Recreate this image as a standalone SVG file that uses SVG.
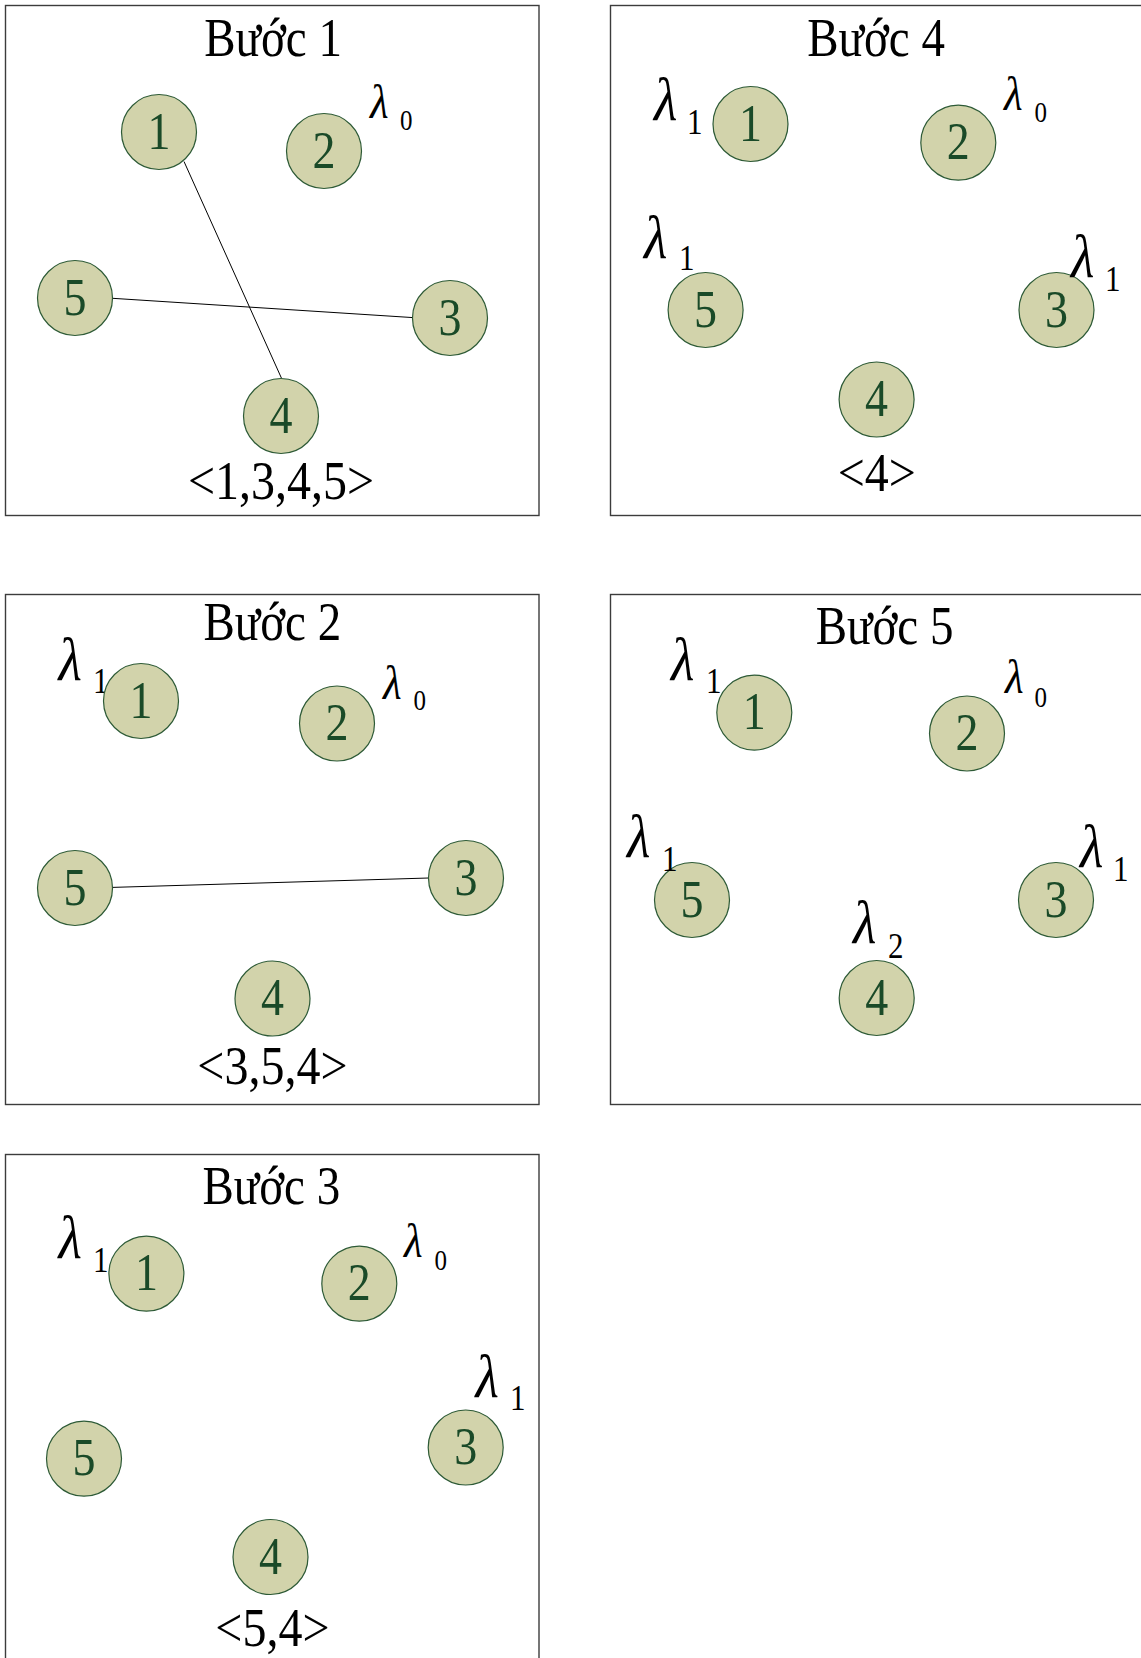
<svg xmlns="http://www.w3.org/2000/svg" width="1141" height="1658" viewBox="0 0 1141 1658">
<style>
.frame{fill:none;stroke:#3c3c3c;stroke-width:1.4}
.node circle{fill:#d2d3ab;stroke:#2d5a36;stroke-width:1.2}
.d{font-family:"Liberation Serif","Times New Roman",serif;font-size:46px;fill:#1a4a28;text-anchor:middle}
.title{font-family:"Liberation Serif","Times New Roman",serif;font-size:47px;fill:#000;text-anchor:middle}
.seq{font-family:"Liberation Serif","Times New Roman",serif;font-size:48px;fill:#000;text-anchor:middle}
.lam{font-family:"Liberation Serif","Times New Roman",serif;font-style:italic;fill:#000}
.lb{font-size:54px}
.ls{font-size:43px}
.sub{font-family:"Liberation Serif","Times New Roman",serif;fill:#000}
.sb{font-size:31px}
.ss{font-size:25px}
.edge{stroke:#000;stroke-width:1;fill:none}
</style>
<rect width="1141" height="1658" fill="#fff"/>
<g id="frames">
<rect class="frame" x="5.5" y="5.5" width="533.5" height="510"/>
<rect class="frame" x="610.5" y="5.5" width="560" height="510"/>
<rect class="frame" x="5.5" y="594.5" width="533.5" height="510"/>
<rect class="frame" x="610.5" y="594.5" width="560" height="510"/>
<rect class="frame" x="5.5" y="1154.5" width="533.5" height="530"/>
</g>
<g id="titles">
<text class="title" transform="translate(273,55.7) scale(1,1.15)">Bước 1</text>
<text class="title" transform="translate(876,55.7) scale(1,1.15)">Bước 4</text>
<text class="title" transform="translate(272.3,640) scale(1,1.15)">Bước 2</text>
<text class="title" transform="translate(884.5,644.2) scale(1,1.15)">Bước 5</text>
<text class="title" transform="translate(271.3,1204.3) scale(1,1.15)">Bước 3</text>
<text class="seq" transform="translate(281,499) scale(1,1.15)">&lt;1,3,4,5&gt;</text>
<text class="seq" transform="translate(876.7,491) scale(1,1.15)">&lt;4&gt;</text>
<text class="seq" transform="translate(272.4,1084) scale(1,1.15)">&lt;3,5,4&gt;</text>
<text class="seq" transform="translate(272.4,1646) scale(1,1.15)">&lt;5,4&gt;</text>
</g>
<g id="connectors">
<line class="edge" x1="184" y1="161.5" x2="281.4" y2="378"/>
<line class="edge" x1="112.5" y1="298.3" x2="413" y2="317.6"/>
<line class="edge" x1="112.5" y1="887.4" x2="428.6" y2="878"/>
</g>
<!-- Panel 1 -->
<g id="p1-n1" class="node"><circle cx="159" cy="132" r="37.5"/><text class="d" transform="translate(159,148.5) scale(1,1.15)">1</text></g>
<g id="p1-n2" class="node"><circle cx="324" cy="151" r="37.5"/><text class="d" transform="translate(324,167.5) scale(1,1.15)">2</text>
<text class="lam ls" transform="translate(370,118) scale(1,1.15)">λ</text><text class="sub ss" transform="translate(400,130) scale(1,1.15)">0</text></g>
<g id="p1-n5" class="node"><circle cx="75" cy="298" r="37.5"/><text class="d" transform="translate(75,314.5) scale(1,1.15)">5</text></g>
<g id="p1-n3" class="node"><circle cx="450" cy="318" r="37.5"/><text class="d" transform="translate(450,334.5) scale(1,1.15)">3</text></g>
<g id="p1-n4" class="node"><circle cx="281" cy="416" r="37.5"/><text class="d" transform="translate(281,432.5) scale(1,1.15)">4</text></g>
<!-- Panel 4 -->
<g id="p4-n1" class="node"><circle cx="750.5" cy="124" r="37.5"/><text class="d" transform="translate(750.5,140.5) scale(1,1.15)">1</text>
<text class="lam lb" transform="translate(654,120) scale(1,1.15)">λ</text><text class="sub sb" transform="translate(687,133.5) scale(1,1.15)">1</text></g>
<g id="p4-n2" class="node"><circle cx="958.3" cy="142.7" r="37.5"/><text class="d" transform="translate(958.3,159.2) scale(1,1.15)">2</text>
<text class="lam ls" transform="translate(1004,110) scale(1,1.15)">λ</text><text class="sub ss" transform="translate(1034.5,122.3) scale(1,1.15)">0</text></g>
<g id="p4-n5" class="node"><circle cx="705.6" cy="310" r="37.5"/><text class="d" transform="translate(705.6,326.5) scale(1,1.15)">5</text>
<text class="lam lb" transform="translate(644,258.4) scale(1,1.15)">λ</text><text class="sub sb" transform="translate(679,270) scale(1,1.15)">1</text></g>
<g id="p4-n3" class="node"><circle cx="1056.5" cy="310" r="37.5"/><text class="d" transform="translate(1056.5,326.5) scale(1,1.15)">3</text>
<text class="lam lb" transform="translate(1071,277) scale(1,1.15)">λ</text><text class="sub sb" transform="translate(1105,290.5) scale(1,1.15)">1</text></g>
<g id="p4-n4" class="node"><circle cx="876.6" cy="399.5" r="37.5"/><text class="d" transform="translate(876.6,416) scale(1,1.15)">4</text></g>
<!-- Panel 2 -->
<g id="p2-n1" class="node"><text class="lam lb" transform="translate(58.5,679.7) scale(1,1.15)">λ</text><text class="sub sb" transform="translate(93,693) scale(1,1.15)">1</text>
<circle cx="141" cy="701" r="37.5"/><text class="d" transform="translate(141,717.5) scale(1,1.15)">1</text></g>
<g id="p2-n2" class="node"><circle cx="337" cy="723.5" r="37.5"/><text class="d" transform="translate(337,740) scale(1,1.15)">2</text>
<text class="lam ls" transform="translate(383,699) scale(1,1.15)">λ</text><text class="sub ss" transform="translate(413.5,710) scale(1,1.15)">0</text></g>
<g id="p2-n5" class="node"><circle cx="75" cy="888" r="37.5"/><text class="d" transform="translate(75,904.5) scale(1,1.15)">5</text></g>
<g id="p2-n3" class="node"><circle cx="466" cy="878" r="37.5"/><text class="d" transform="translate(466,894.5) scale(1,1.15)">3</text></g>
<g id="p2-n4" class="node"><circle cx="272.5" cy="998.5" r="37.5"/><text class="d" transform="translate(272.5,1015) scale(1,1.15)">4</text></g>
<!-- Panel 5 -->
<g id="p5-n1" class="node"><circle cx="754.3" cy="712.6" r="37.5"/><text class="d" transform="translate(754.3,729.1) scale(1,1.15)">1</text>
<text class="lam lb" transform="translate(671,679.7) scale(1,1.15)">λ</text><text class="sub sb" transform="translate(706,693) scale(1,1.15)">1</text></g>
<g id="p5-n2" class="node"><circle cx="967" cy="733.5" r="37.5"/><text class="d" transform="translate(967,750) scale(1,1.15)">2</text>
<text class="lam ls" transform="translate(1005,693) scale(1,1.15)">λ</text><text class="sub ss" transform="translate(1034.5,706.7) scale(1,1.15)">0</text></g>
<g id="p5-n5" class="node"><circle cx="692" cy="900" r="37.5"/><text class="d" transform="translate(692,916.5) scale(1,1.15)">5</text>
<text class="lam lb" transform="translate(627,857) scale(1,1.15)">λ</text><text class="sub sb" transform="translate(662,870.5) scale(1,1.15)">1</text></g>
<g id="p5-n3" class="node"><circle cx="1056" cy="900" r="37.5"/><text class="d" transform="translate(1056,916.5) scale(1,1.15)">3</text>
<text class="lam lb" transform="translate(1080,867) scale(1,1.15)">λ</text><text class="sub sb" transform="translate(1113,880.7) scale(1,1.15)">1</text></g>
<g id="p5-n4" class="node"><circle cx="876.7" cy="998" r="37.5"/><text class="d" transform="translate(876.7,1014.5) scale(1,1.15)">4</text>
<text class="lam lb" transform="translate(853,943) scale(1,1.15)">λ</text><text class="sub sb" transform="translate(888,957.7) scale(1,1.15)">2</text></g>
<!-- Panel 3 -->
<g id="p3-n1" class="node"><circle cx="146.4" cy="1273.7" r="37.5"/><text class="d" transform="translate(146.4,1290.2) scale(1,1.15)">1</text>
<text class="lam lb" transform="translate(58.5,1258.3) scale(1,1.15)">λ</text><text class="sub sb" transform="translate(93,1271.7) scale(1,1.15)">1</text></g>
<g id="p3-n2" class="node"><circle cx="359.3" cy="1283.7" r="37.5"/><text class="d" transform="translate(359.3,1300.2) scale(1,1.15)">2</text>
<text class="lam ls" transform="translate(404,1257) scale(1,1.15)">λ</text><text class="sub ss" transform="translate(434.5,1270) scale(1,1.15)">0</text></g>
<g id="p3-n5" class="node"><circle cx="84" cy="1458.7" r="37.5"/><text class="d" transform="translate(84,1475.2) scale(1,1.15)">5</text></g>
<g id="p3-n3" class="node"><circle cx="465.7" cy="1447.5" r="37.5"/><text class="d" transform="translate(465.7,1464) scale(1,1.15)">3</text>
<text class="lam lb" transform="translate(475.5,1396.7) scale(1,1.15)">λ</text><text class="sub sb" transform="translate(510,1410) scale(1,1.15)">1</text></g>
<g id="p3-n4" class="node"><circle cx="270.5" cy="1557" r="37.5"/><text class="d" transform="translate(270.5,1573.5) scale(1,1.15)">4</text></g>
</svg>
